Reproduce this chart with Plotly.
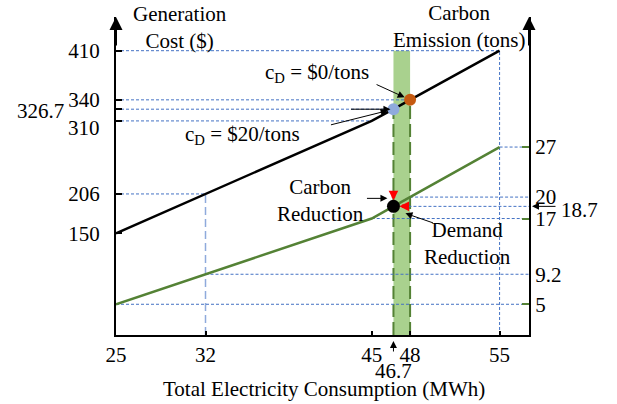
import plotly.graph_objects as go

# ---------------- data ----------------
consumption = [25, 32, 45, 46.7, 48, 55]          # MWh
cost = [150, 206, 310, 326.7, 340, 410]           # $
emission = [5, 9.2, 17, 18.7, 20, 27]             # tons

x_ticks = [25, 32, 45, 48, 55]
cost_ticks = [150, 206, 310, 326.7, 340, 410]
cost_tick_text = ["150", "206", "", "", "340", "410"]   # 310 and 326.7 drawn as offset labels
emis_ticks = [5, 9.2, 17, 20, 27]
emis_tick_text = ["5", "9.2", "17", "20", "27"]
emis_tick_marks = [5, 17, 27]

opt_no_price = (48, 340)      # c_D = $0/tons
opt_price = (46.7, 326.7)     # c_D = $20/tons
reduced_point = (46.7, 18.7)  # emission after reduction
band = (46.7, 48)
carbon_arrow_top = 20.9

X_RANGE = [25, 57.3]
COST_RANGE = [5.1, 458]
EMIS_RANGE = [0.7, 45.2]

FONT = "Liberation Serif"
FS = 21
BLUE = "#4472c4"
LBLUE = "#8faadc"
GREEN = "#548235"
BAND = "#a9d18e"
ORANGE = "#c55a11"

FIG_W, FIG_H = 617, 404
# plot area in pixels
L, R, T, B = 116, 529, 17, 335
W, H = R - L, B - T


def pxx(p):
    return (p - L) / W


def pxy(p):
    return (B - p) / H


fig = go.Figure()

# cost reference lines (left axis)
hx, hy = [], []
for c, v in zip(consumption[1:], cost[1:]):
    hx += [X_RANGE[0], c, None]
    hy += [v, v, None]
fig.add_trace(go.Scatter(x=hx, y=hy, mode="lines",
                         line=dict(color=BLUE, width=1, dash="3px,2px"),
                         hoverinfo="skip"))

# emission reference lines (right axis)
ex, ey = [], []
for c, v in zip(consumption, emission):
    ex += [c, X_RANGE[1], None]
    ey += [v, v, None]
fig.add_trace(go.Scatter(x=ex, y=ey, mode="lines", yaxis="y2",
                         line=dict(color=BLUE, width=1, dash="3px,2px"),
                         hoverinfo="skip"))

# vertical reference lines
fig.add_trace(go.Scatter(x=[consumption[1], consumption[1]], y=[COST_RANGE[0], cost[1]],
                         mode="lines", line=dict(color=LBLUE, width=1.5, dash="8px,4px"),
                         hoverinfo="skip"))
fig.add_trace(go.Scatter(x=[consumption[5], consumption[5]], y=[COST_RANGE[0], cost[5]],
                         mode="lines", line=dict(color=BLUE, width=1, dash="3px,2px"),
                         hoverinfo="skip"))

# band
fig.add_shape(type="rect", xref="x", yref="y", x0=band[0], x1=band[1],
              y0=COST_RANGE[0], y1=cost[-1], fillcolor=BAND, line_width=0, layer="below")

# band edges
fig.add_trace(go.Scatter(x=[band[0], band[0], None, band[1], band[1]],
                         y=[COST_RANGE[0], opt_price[1], None, COST_RANGE[0], opt_no_price[1]],
                         mode="lines", line=dict(color=GREEN, width=2, dash="13px,5px"),
                         hoverinfo="skip"))

# cost curve
fig.add_trace(go.Scatter(x=consumption, y=cost, mode="lines",
                         line=dict(color="black", width=2.5)))
# emission curve
fig.add_trace(go.Scatter(x=consumption, y=emission, mode="lines", yaxis="y2",
                         line=dict(color=GREEN, width=2.5)))

# markers
fig.add_trace(go.Scatter(x=[opt_price[0]], y=[opt_price[1]], mode="markers",
                         marker=dict(color=LBLUE, size=12)))
fig.add_trace(go.Scatter(x=[opt_no_price[0]], y=[opt_no_price[1]], mode="markers",
                         marker=dict(color=ORANGE, size=12)))
fig.add_trace(go.Scatter(x=[reduced_point[0]], y=[reduced_point[1]], mode="markers",
                         yaxis="y2", marker=dict(color="black", size=13)))

ann = []


def text(t, x, y, xanchor="center"):
    ann.append(dict(text=t, xref="paper", yref="paper", x=pxx(x), y=pxy(y),
                    xanchor=xanchor, yanchor="middle", showarrow=False,
                    font=dict(family=FONT, size=FS, color="black")))


def arrow(x, y, ax, ay, xref="x", yref="y", standoff=0, color="black", width=1,
          head=2, size=1.4, **kw):
    d = dict(text="", x=x, y=y, xref=xref, yref=yref, ax=ax, ay=ay, showarrow=True,
             arrowhead=head, arrowsize=size, arrowwidth=width, arrowcolor=color,
             standoff=standoff)
    d.update(kw)
    ann.append(d)


# axis arrows
arrow(0, 1, 0, 30, xref="paper", yref="paper", width=2, size=1.3)
arrow(1, 1, 0, 30, xref="paper", yref="paper", width=2, size=1.3)

# titles
text("Generation<br>Cost ($)", 180, 27)
text("Carbon<br>Emission (tons)", 459, 26)
text("Total Electricity Consumption (MWh)", 324, 389)

# 310 label (set slightly below its tick, as in the figure)
text(str(cost[2]), 102, 128, xanchor="right")

# 326.7 label
text(str(cost[3]), 40, 111)
arrow(consumption[3], cost[3], -44, 0, standoff=3)

# 18.7 label
text(str(emission[3]), 579, 210)
arrow(1, emission[3], 28, 0, xref="paper", yref="y2", standoff=3)

# 46.7 label
ann.append(dict(text=str(consumption[3]), x=consumption[3], y=0, xref="x", yref="paper",
                yshift=-36, showarrow=False, xanchor="center", yanchor="middle",
                font=dict(family=FONT, size=FS, color="black")))
arrow(consumption[3], 0, 0, 18, yref="paper", standoff=6)

# c_D labels
text("c<sub>D</sub> = $0/tons", 317, 73)
arrow(opt_no_price[0], opt_no_price[1], -35, -16, standoff=6)
text("c<sub>D</sub> = $20/tons", 242, 135)
arrow(opt_price[0], opt_price[1], -64, 16, standoff=6)

# reduction labels
text("Carbon<br>Reduction", 320, 200)
arrow(reduced_point[0], reduced_point[1], -22, 0, yref="y2", xshift=-6, yshift=8)
text("Demand<br>Reduction", 467, 244)
arrow(reduced_point[0], reduced_point[1], 29, 10, yref="y2", xshift=12, yshift=-7)

# red reduction arrows
arrow(reduced_point[0], reduced_point[1], reduced_point[0], carbon_arrow_top,
      yref="y2", axref="x", ayref="y2", standoff=6, color="red", width=3.5, size=0.55)
arrow(reduced_point[0], reduced_point[1], band[1], reduced_point[1],
      yref="y2", axref="x", ayref="y2", standoff=6, color="red", width=3.5, size=0.55)

fig.update_layout(
    width=FIG_W, height=FIG_H, autosize=False,
    margin=dict(l=L, r=FIG_W - R, t=T, b=FIG_H - B),
    paper_bgcolor="white", plot_bgcolor="white",
    showlegend=False,
    font=dict(family=FONT, size=FS, color="black"),
    annotations=ann,
    xaxis=dict(range=X_RANGE, showline=True, linecolor="black", linewidth=2,
               ticks="inside", ticklen=4, tickwidth=1.5, tickcolor="black",
               tickvals=x_ticks, ticktext=[str(v) for v in x_ticks],
               showgrid=False, zeroline=False, fixedrange=True),
    yaxis=dict(range=COST_RANGE, showline=True, linecolor="black", linewidth=2,
               ticks="inside", ticklen=6, tickwidth=2, tickcolor="black",
               tickvals=cost_ticks, ticktext=cost_tick_text,
               ticklabelstandoff=10,
               showgrid=False, zeroline=False),
    yaxis2=dict(range=EMIS_RANGE, overlaying="y", side="right", showline=True,
                linecolor="black", linewidth=2, ticks="",
                tickvals=emis_ticks, ticktext=emis_tick_text,
                minor=dict(tickmode="array", tickvals=emis_tick_marks, ticks="inside",
                           ticklen=7, tickwidth=2, tickcolor=GREEN, showgrid=False),
                showgrid=False, zeroline=False),
)

fig.write_html(
    "out.html",
    config={"displayModeBar": False},
    post_script="document.body.style.margin='0';document.body.style.overflow='hidden';",
)
